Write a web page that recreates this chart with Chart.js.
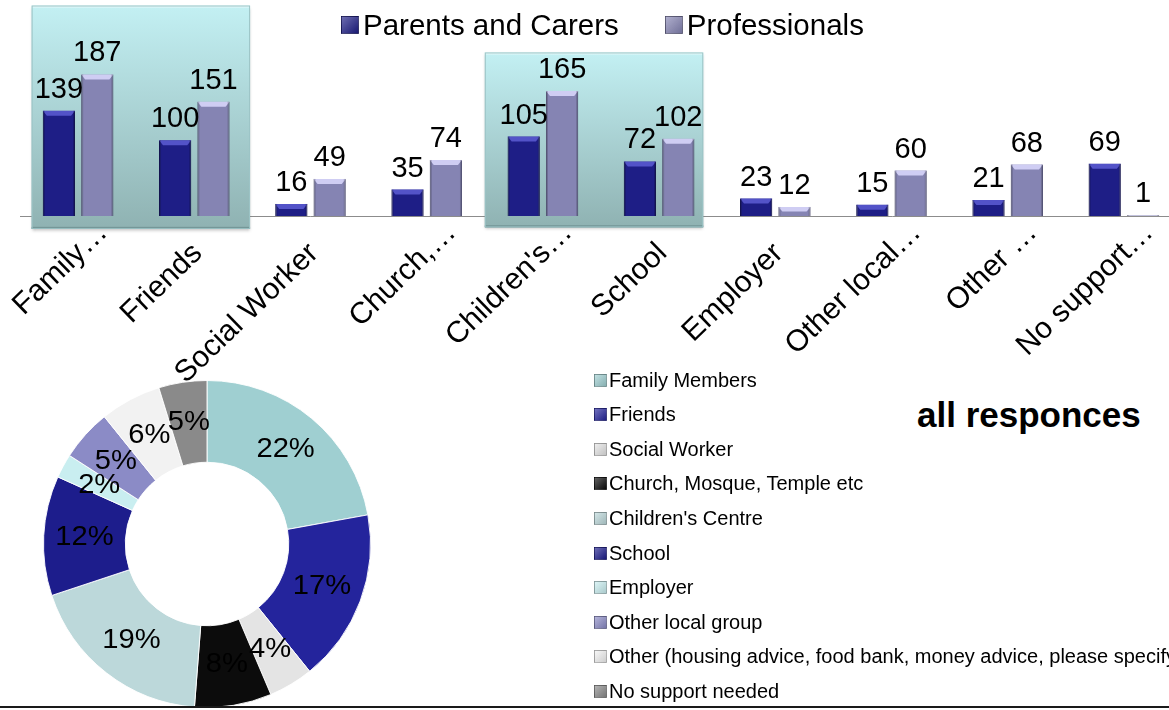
<!DOCTYPE html>
<html>
<head>
<meta charset="utf-8">
<script src="https://cdn.jsdelivr.net/npm/chart.js@4.4.0/dist/chart.umd.min.js"></script>
<style>
  body { margin: 0; width: 1169px; height: 710px; overflow: hidden; background: #fff; position: relative;
         font-family: "Liberation Sans", Arial, sans-serif; color: #000; }
  #pieChart { position: absolute; left: 0; top: 360px; }
  #barChart { position: absolute; left: 0; top: 0; }
  #barLegend { position: absolute; top: 10px; height: 30px; display: flex; align-items: center; font-size: 29.5px; white-space: nowrap; }
  #barLegend .box { display: inline-block; width: 18px; height: 18px; margin-right: 4px; box-sizing: border-box;
                    border: 1px solid rgba(0,0,0,0.3);
                    background-image: linear-gradient(135deg, rgba(255,255,255,0.35), rgba(0,0,0,0.15)); }
  #pieLegend { position: absolute; left: 594px; top: 363px; font-size: 20px; }
  #pieLegend .row { height: 34.55px; display: flex; align-items: center; white-space: nowrap; }
  #pieLegend .box { width: 11px; height: 11px; margin-right: 2px; border: 1px solid rgba(0,0,0,0.25);
                    background-image: linear-gradient(135deg, rgba(255,255,255,0.35), rgba(0,0,0,0.15)); }
  #pieTitle { position: absolute; left: 917px; top: 395px; font-size: 35px; font-weight: bold; white-space: nowrap; }
  #bottomLine { position: absolute; left: 0; top: 706px; width: 1169px; height: 2px; background: #1a1a1a; }
</style>
</head>
<body>
<canvas id="pieChart" width="414" height="350"></canvas>
<canvas id="barChart" width="1182" height="390"></canvas>
<div id="barLegend"></div>
<div id="pieTitle">all responces</div>
<div id="pieLegend"></div>
<div id="bottomLine"></div>

<script>
// DATA
const categories = ["Family Members", "Friends", "Social Worker", "Church, Mosque, Temple etc",
  "Children's Centre", "School", "Employer", "Other local group",
  "Other (housing advice, food bank, money advice, please specify)", "No support needed"];
const tickLabels = ["Family…", "Friends", "Social Worker", "Church,…", "Children's…",
  "School", "Employer", "Other local…", "Other …", "No support…"];
const seriesNames = ["Parents and Carers", "Professionals"];
const parentsCarers = [139, 100, 16, 35, 105, 72, 23, 15, 21, 69];
const professionals = [187, 151, 49, 74, 165, 102, 12, 60, 68, 1];
const allResponses = [326, 251, 65, 112, 275, 174, 35, 75, 89, 70];

// STYLE
const FONT = '"Liberation Sans", Arial, sans-serif';
const seriesColors = ["#1e1e86", "#8584b3"];
const sliceColors = ["#9fcfd1", "#24249c", "#e4e4e4", "#0c0c0c", "#bcd8da",
  "#1d1d8c", "#c9eef0", "#8b8bc6", "#f2f2f2", "#8a8a8a"];

// teal panels behind two of the groups
const groupHighlight = {
  id: "groupHighlight",
  beforeDatasetsDraw(chart, args, opts) {
    const ctx = chart.ctx, x = chart.scales.x, y = chart.scales.y;
    ctx.save();
    opts.groups.forEach(g => {
      const left = x.getPixelForValue(g.from), right = x.getPixelForValue(g.to);
      const top = y.getPixelForValue(g.top), bottom = y.getPixelForValue(g.bottom);
      ctx.shadowColor = "rgba(0,0,0,0.25)";
      ctx.shadowOffsetY = 2;
      ctx.shadowBlur = 3;
      const grad = ctx.createLinearGradient(0, top, 0, bottom);
      grad.addColorStop(0, "#c3f0f3");
      grad.addColorStop(1, "#8fb2b2");
      ctx.fillStyle = grad;
      ctx.fillRect(left, top, right - left, bottom - top);
      ctx.shadowColor = "transparent";
      ctx.fillStyle = "rgba(255,255,255,0.6)";
      ctx.fillRect(left, top, right - left, 2);
      ctx.fillStyle = "#6f9092";
      ctx.fillRect(left, bottom - 2, right - left, 2);
      ctx.strokeStyle = "#9cc4c6";
      ctx.lineWidth = 1;
      ctx.strokeRect(left + 0.5, top + 0.5, right - left - 1, bottom - top - 1);
    });
    ctx.restore();
  }
};

// bevel highlight on top of each bar
const barBevel = {
  id: "barBevel",
  afterDatasetsDraw(chart) {
    const ctx = chart.ctx;
    ctx.save();
    chart.data.datasets.forEach((ds, di) => {
      chart.getDatasetMeta(di).data.forEach(bar => {
        const p = bar.getProps(["x", "y", "width", "base"], true);
        const l = p.x - p.width / 2, r = p.x + p.width / 2;
        const h = Math.min(5, (p.base - p.y) / 2);
        if (h <= 0) return;
        ctx.fillStyle = ds.bevelColor;
        ctx.beginPath();
        ctx.moveTo(l, p.y);
        ctx.lineTo(r, p.y);
        ctx.lineTo(r - 4, p.y + h);
        ctx.lineTo(l + 4, p.y + h);
        ctx.closePath();
        ctx.fill();
        ctx.fillStyle = "rgba(0,0,0,0.18)";
        ctx.fillRect(l, p.y, 2, p.base - p.y);
        ctx.fillRect(r - 2, p.y, 2, p.base - p.y);
      });
    });
    ctx.restore();
  }
};

// numbers above bars
const barValues = {
  id: "barValues",
  afterDatasetsDraw(chart) {
    const ctx = chart.ctx;
    ctx.save();
    ctx.font = "29px " + FONT;
    ctx.fillStyle = "#000";
    ctx.textAlign = "center";
    ctx.textBaseline = "alphabetic";
    chart.data.datasets.forEach((ds, di) => {
      chart.getDatasetMeta(di).data.forEach((bar, i) => {
        ctx.fillText(ds.data[i], bar.x, bar.y - 13);
      });
    });
    ctx.restore();
  }
};

// percentages on the doughnut
const pieValues = {
  id: "pieValues",
  afterDatasetsDraw(chart) {
    const ctx = chart.ctx;
    const data = chart.data.datasets[0].data;
    const total = data.reduce((a, b) => a + b, 0);
    ctx.save();
    ctx.font = "27px " + FONT;
    ctx.fillStyle = "#000";
    ctx.textAlign = "center";
    ctx.textBaseline = "middle";
    chart.getDatasetMeta(0).data.forEach((arc, i) => {
      const pos = arc.tooltipPosition();
      ctx.save();
      ctx.translate(pos.x, pos.y);
      ctx.scale(1.08, 1);
      ctx.fillText(Math.round(data[i] / total * 100) + "%", 0, 0);
      ctx.restore();
    });
    ctx.restore();
  }
};

// BAR CHART
new Chart(document.getElementById("barChart"), {
  type: "bar",
  data: {
    labels: tickLabels,
    datasets: [{
      label: seriesNames[0],
      data: parentsCarers,
      backgroundColor: seriesColors[0],
      borderColor: "#15155e",
      borderWidth: 1,
      bevelColor: "#5353c8"
    }, {
      label: seriesNames[1],
      data: professionals,
      backgroundColor: seriesColors[1],
      borderColor: "#66658f",
      borderWidth: 1,
      bevelColor: "#cfcdf3"
    }]
  },
  options: {
    responsive: false,
    animation: false,
    devicePixelRatio: 1,
    categoryPercentage: 0.66,
    barPercentage: 0.84,
    layout: { padding: { left: 20, right: 0, top: 4, bottom: 0 } },
    plugins: {
      legend: { display: false },
      tooltip: { enabled: false },
      groupHighlight: {
        groups: [
          { from: -0.40, to: 1.48, top: 278, bottom: -17 },
          { from: 3.50, to: 5.38, top: 216, bottom: -15 }
        ]
      }
    },
    scales: {
      x: {
        grid: { display: false },
        border: { display: true, color: "#8c8c8c", width: 1 },
        ticks: {
          font: { size: 30, family: FONT }, color: "#000",
          minRotation: 44, maxRotation: 44, autoSkip: false,
          labelOffset: 25, padding: -9,
          // truncated labels hang their ellipsis past the anchor, so pad the full ones
          callback(value) {
            const t = this.getLabelForValue(value);
            return t.endsWith("…") ? t : t + "\u2003";
          }
        },
        afterFit(scale) {
          scale.height = 174;
          scale.paddingLeft = 0;
          scale.paddingRight = 0;
        }
      },
      y: { display: false, min: 0, max: 280 }
    }
  },
  plugins: [groupHighlight, barBevel, barValues]
});

// legend for the bars
const barLegend = document.getElementById("barLegend");
barLegend.style.left = "341px";
seriesNames.forEach((name, i) => {
  const box = document.createElement("span");
  box.className = "box";
  box.style.backgroundColor = seriesColors[i];
  if (i > 0) box.style.marginLeft = "46px";
  const txt = document.createElement("span");
  txt.textContent = name;
  barLegend.appendChild(box);
  barLegend.appendChild(txt);
});

// DOUGHNUT
new Chart(document.getElementById("pieChart"), {
  type: "doughnut",
  data: {
    labels: categories,
    datasets: [{
      data: allResponses,
      backgroundColor: sliceColors,
      borderColor: "rgba(255,255,255,0.9)",
      borderWidth: 1
    }]
  },
  options: {
    responsive: false,
    animation: false,
    devicePixelRatio: 1,
    cutout: "50%",
    layout: { padding: { top: 20, bottom: 2, left: 0, right: 0 } },
    plugins: { legend: { display: false }, tooltip: { enabled: false } }
  },
  plugins: [pieValues]
});

// legend for the doughnut
const legendBox = document.getElementById("pieLegend");
categories.forEach((name, i) => {
  const row = document.createElement("div");
  row.className = "row";
  const box = document.createElement("span");
  box.className = "box";
  box.style.backgroundColor = sliceColors[i];
  const txt = document.createElement("span");
  txt.textContent = name;
  row.appendChild(box);
  row.appendChild(txt);
  legendBox.appendChild(row);
});
</script>
</body>
</html>
